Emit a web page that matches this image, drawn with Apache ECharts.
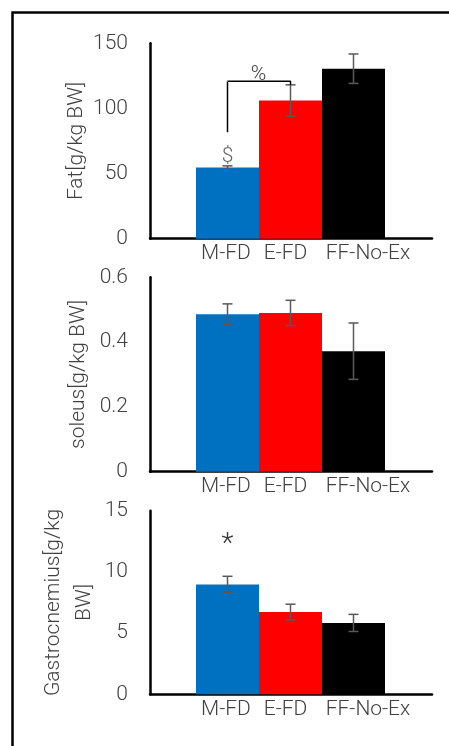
<!DOCTYPE html>
<html>
<head>
<meta charset="utf-8">
<script src="https://cdn.jsdelivr.net/npm/echarts@6/dist/echarts.min.js"></script>
<style>
  html, body { margin: 0; padding: 0; background: #fff; }
  #chart { width: 449px; height: 746px; }
</style>
</head>
<body>
<div id="chart"></div>
<script>
// groups and bar colours
var categories = ['M-FD', 'E-FD', 'FF-No-Ex'];
var barColors = ['#0070C0', '#FF0000', '#000000'];

// Fat [g/kg BW]
var fatMean = [54.6, 106.1, 130.5];
var fatErr = [1.3, 12.0, 11.3];
// bracket M-FD -> E-FD with "%"
var fatBracket = [['M-FD', 81.8], ['M-FD', 120.8], ['E-FD', 120.8], ['E-FD', 118.2]];
var fatDollar = [['M-FD', 63]];

// soleus [g/kg BW]
var soleusMean = [0.486, 0.490, 0.372];
var soleusErr = [0.032, 0.039, 0.087];

// Gastrocnemius [g/kg BW]
var gastroMean = [8.98, 6.72, 5.83];
var gastroErr = [0.66, 0.64, 0.70];
var gastroStar = [['M-FD', 12.2]];

var TXT = '#404040';
var FONT = 'Roboto';

var panels = [
    { top: 43.3, bottom: 507.3, max: 150, interval: 50, name: 'Fat[g/kg BW]', nameGap: 58, mean: fatMean, err: fatErr },
    { top: 277.3, bottom: 274.3, max: 0.6, interval: 0.2, name: 'soleus[g/kg BW]', nameGap: 56, mean: soleusMean, err: soleusErr },
    { top: 510.7, bottom: 51.7, max: 15, interval: 5, name: 'Gastrocnemius[g/kg\nBW]', nameGap: 50, mean: gastroMean, err: gastroErr }
];

var grid = [], xAxis = [], yAxis = [], series = [];

panels.forEach(function(p, k) {
    var a = k * 2, b = k * 2 + 1;
    // frame grid: axis lines and y labels
    grid.push({ left: 150, right: 17, top: p.top, bottom: p.bottom });
    // bar grid
    grid.push({ left: 196, width: 189, top: p.top, bottom: p.bottom });

    xAxis.push({
        gridIndex: a, type: 'category', data: [''],
        axisLine: { lineStyle: { color: '#000', width: 2.5 } },
        axisTick: { show: false }, axisLabel: { show: false }
    });
    xAxis.push({
        gridIndex: b, type: 'category',
        data: [
            { value: categories[0], textStyle: { padding: [0, 3, 0, 0] } },
            { value: categories[1], textStyle: { padding: [0, 10, 0, 0] } },
            { value: categories[2], textStyle: { padding: [0, 0, 0, 29] } }
        ],
        axisLine: { show: false }, axisTick: { show: false },
        axisLabel: { margin: 5, fontSize: 21, fontFamily: FONT, fontWeight: 300, color: TXT, interval: 0 }
    });

    yAxis.push({
        gridIndex: a, type: 'value', min: 0, max: p.max, interval: p.interval,
        name: p.name, nameLocation: 'middle', nameGap: p.nameGap, nameMoveOverlap: false,
        nameTextStyle: { fontSize: 21, fontFamily: FONT, fontWeight: 300, color: TXT, lineHeight: 31, align: 'center' },
        axisLine: { show: true, lineStyle: { color: '#000', width: 2.5 } },
        axisTick: { show: false }, splitLine: { show: false },
        axisLabel: { margin: 22, fontSize: 21, fontFamily: FONT, fontWeight: 300, color: TXT }
    });
    yAxis.push({
        gridIndex: b, type: 'value', min: 0, max: p.max, interval: p.interval,
        show: false, splitLine: { show: false }
    });

    series.push({
        type: 'bar', xAxisIndex: b, yAxisIndex: b, barWidth: '100%',
        data: p.mean.map(function(v, i) {
            return { value: v, itemStyle: { color: barColors[i] } };
        }),
        silent: true
    });

    series.push({
        type: 'custom', xAxisIndex: b, yAxisIndex: b, z: 5, silent: true,
        data: p.mean.map(function(v, i) { return [i, v, p.err[i]]; }),
        encode: { x: 0, y: 1 },
        renderItem: function(params, api) {
            var x = api.value(0), m = api.value(1), e = api.value(2);
            var hi = api.coord([x, m + e]);
            var lo = api.coord([x, m - e]);
            var w = 5;
            var st = { stroke: '#595959', lineWidth: 1.5 };
            return {
                type: 'group',
                children: [
                    { type: 'line', shape: { x1: hi[0], y1: hi[1], x2: lo[0], y2: lo[1] }, style: st },
                    { type: 'line', shape: { x1: hi[0] - w, y1: hi[1], x2: hi[0] + w, y2: hi[1] }, style: st },
                    { type: 'line', shape: { x1: lo[0] - w, y1: lo[1], x2: lo[0] + w, y2: lo[1] }, style: st }
                ]
            };
        }
    });
});

// significance marks
var markLabel = { fontSize: 21, fontFamily: FONT, fontWeight: 300, color: TXT };

series.push({
    type: 'line', xAxisIndex: 1, yAxisIndex: 1, z: 6, silent: true,
    symbol: 'none', lineStyle: { color: '#000', width: 1.5 },
    data: fatBracket.map(function(d, i) {
        if (i !== 1) return d;
        return {
            value: d, symbol: 'circle', symbolSize: 1,
            label: Object.assign({ show: true, formatter: '%', position: 'top', offset: [31, 9] }, markLabel)
        };
    })
});

series.push({
    type: 'scatter', xAxisIndex: 1, yAxisIndex: 1, z: 6, silent: true,
    symbolSize: 1, itemStyle: { color: 'transparent' },
    label: Object.assign({ show: true, formatter: '$', position: 'inside' }, markLabel),
    data: fatDollar
});

series.push({
    type: 'scatter', xAxisIndex: 5, yAxisIndex: 5, z: 6, silent: true,
    symbolSize: 1, itemStyle: { color: 'transparent' },
    label: Object.assign({ show: true, formatter: '*', position: 'inside' }, markLabel, { fontSize: 28, color: '#000' }),
    data: gastroStar
});

var chart = echarts.init(document.getElementById('chart'));
chart.setOption({
    backgroundColor: '#fff',
    animation: false,
    graphic: [{
        type: 'rect', left: 10, top: 10, silent: true,
        shape: { width: 460, height: 760 },
        style: { fill: 'none', stroke: '#000', lineWidth: 2.5 }
    }],
    grid: grid,
    xAxis: xAxis,
    yAxis: yAxis,
    series: series
});
</script>
</body>
</html>
